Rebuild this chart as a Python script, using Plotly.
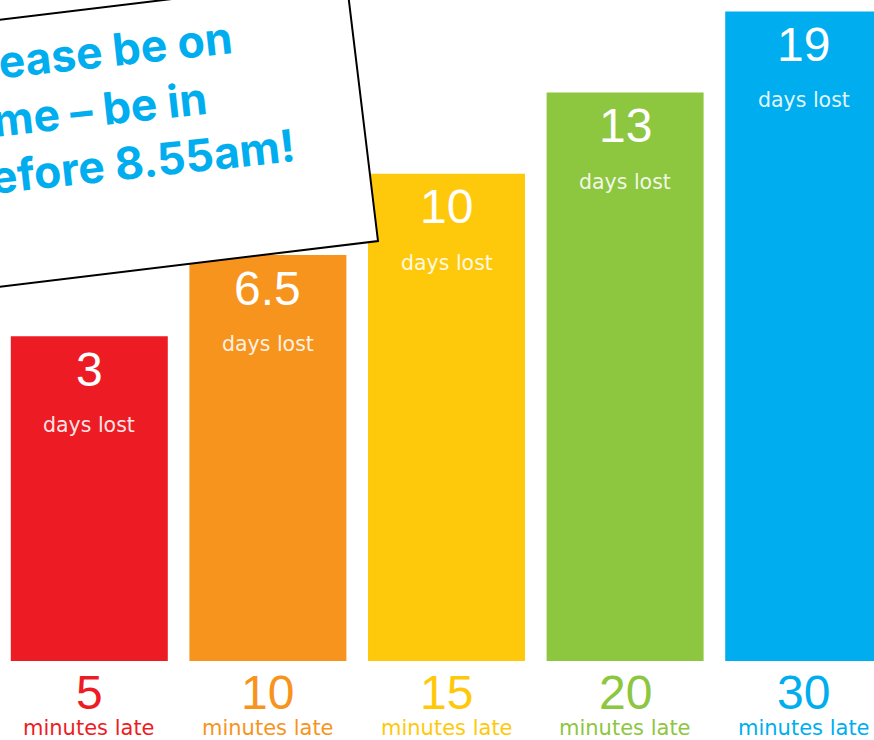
import math
import plotly.graph_objects as go

# ---- data ----
minutes_late = ["5", "10", "15", "20", "30"]
days_lost = ["3", "6.5", "10", "13", "19"]
bar_heights = [4, 5, 6, 7, 8]          # drawn heights (relative units as in the picture)
bar_colors = ["#ED1C24", "#F7941D", "#FFC90B", "#8DC63F", "#00AEEF"]
note_lines = ["Please be on", "time \u2013 be in", "before 8.55am!"]

W, H = 874, 740
x_idx = list(range(len(minutes_late)))

fig = go.Figure()
fig.add_trace(go.Bar(
    x=x_idx, y=bar_heights,
    marker=dict(color=bar_colors, line=dict(width=0)),
    hoverinfo="skip",
))

annotations = []
num_font = "Liberation Sans, Arial, sans-serif"
small_font = "DejaVu Sans, Verdana, sans-serif"
for i, h in enumerate(bar_heights):
    annotations.append(dict(x=i, y=h, xref="x", yref="y", text=days_lost[i],
                            showarrow=False, yanchor="middle", yshift=-33,
                            font=dict(family=num_font, size=48, color="white")))
    annotations.append(dict(x=i, y=h, xref="x", yref="y", text="days lost",
                            showarrow=False, yanchor="middle", yshift=-89,
                            font=dict(family=small_font, size=20.5,
                                      color="rgba(255,255,255,0.9)")))
    annotations.append(dict(x=i, y=0, xref="x", yref="y", text=minutes_late[i],
                            showarrow=False, yanchor="middle", yshift=-31,
                            font=dict(family=num_font, size=48, color=bar_colors[i])))
    annotations.append(dict(x=i, y=0, xref="x", yref="y", text="minutes late",
                            showarrow=False, yanchor="middle", yshift=-67,
                            font=dict(family=small_font, size=21, color=bar_colors[i])))

# ---- tilted note card (pixel geometry converted to paper coords) ----
ang = 6.9
th = math.radians(ang)
ux, uy = math.cos(th), -math.sin(th)
vx, vy = -math.sin(th), -math.cos(th)
Bx, By = 378, 241
hgt, wid = 265, 700
TRx, TRy = Bx + hgt * vx, By + hgt * vy
TLx, TLy = TRx - wid * ux, TRy - wid * uy
BLx, BLy = Bx - wid * ux, By - wid * uy

def p(x, y):
    return f"{x / W:.5f},{1 - y / H:.5f}"

path = f"M {p(BLx, BLy)} L {p(Bx, By)} L {p(TRx, TRy)} L {p(TLx, TLy)} Z"
shapes = [dict(type="path", xref="paper", yref="paper", path=path,
               fillcolor="white", line=dict(color="black", width=2), layer="above")]

# note lines: anchored by the right end of each line's baseline
txt_ang = 6.2
fs = 44.5
phi = math.radians(txt_ang)
asc, desc, pad = 0.969 * fs, 0.242 * fs, 1
line_ends = [(235, 51.5), (210, 113), (298, 160)]
for line, (rx, ry) in zip(note_lines, line_ends):
    X = rx + desc * math.sin(phi) + pad
    Y = ry - asc * math.cos(phi) - pad
    annotations.append(dict(x=X / W, y=1 - Y / H, xref="paper", yref="paper",
                            text=line, showarrow=False, align="left",
                            xanchor="right", yanchor="top", textangle=-txt_ang,
                            font=dict(family="Inter, Open Sans, sans-serif", size=fs,
                                      color="#00AEEF", weight="bold")))

px_per_unit = 81.2
base_px = 661
y_max = base_px / px_per_unit
y_min = -(H - base_px) / px_per_unit
x_pitch = 178.6

fig.update_layout(
    width=W, height=H,
    margin=dict(l=0, r=0, t=0, b=0),
    paper_bgcolor="white", plot_bgcolor="white",
    showlegend=False, bargap=0.121,
    xaxis=dict(range=[-0.5, W / x_pitch - 0.5], visible=False, fixedrange=True),
    yaxis=dict(range=[y_min, y_max], visible=False, fixedrange=True),
    annotations=annotations, shapes=shapes,
)

fig.write_html("out.html", config={"displayModeBar": False},
               post_script="document.body.style.margin='0';document.body.style.overflow='hidden';")
